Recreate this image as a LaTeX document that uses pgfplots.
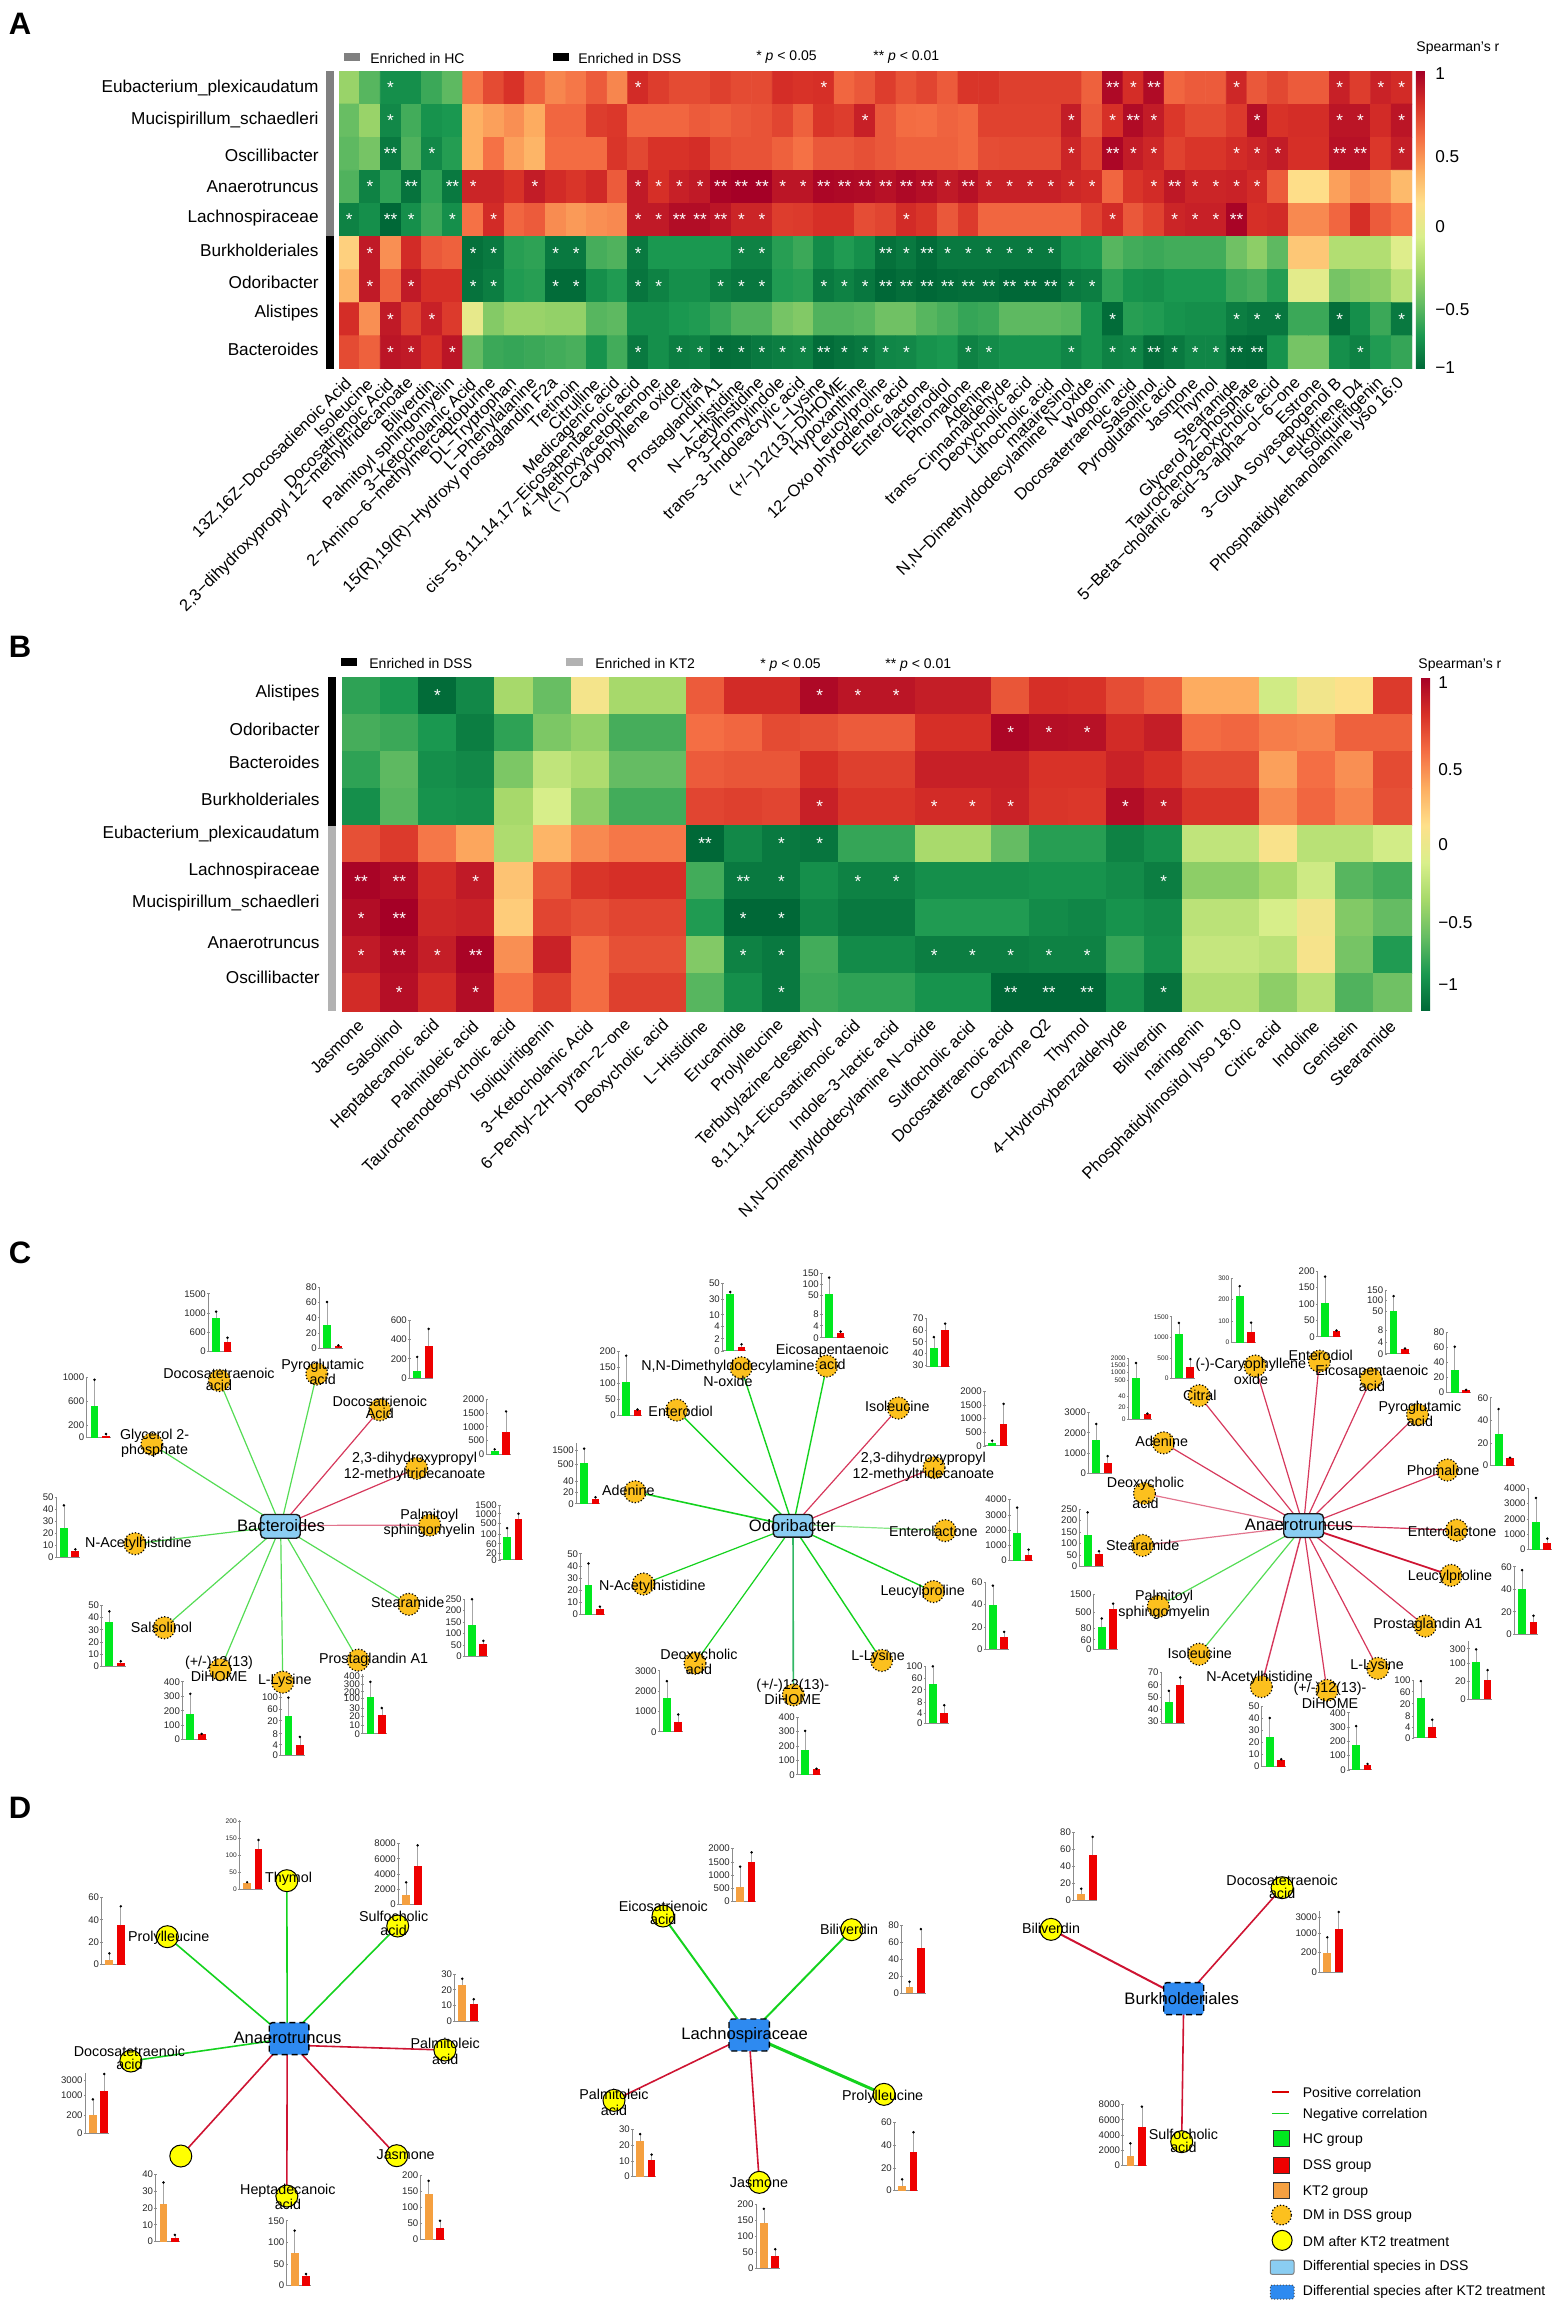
\documentclass[border=0pt]{standalone}
\usepackage{fontspec}
\setmainfont{Liberation Sans}
\usepackage{pgfplots}
\usepackage{pgfplotstable}
\pgfplotsset{compat=1.18}

\definecolor{hcgreen}{RGB}{0,232,30}
\definecolor{dssred}{RGB}{238,0,0}
\definecolor{ktorange}{RGB}{245,160,64}
\definecolor{dmdss}{RGB}{252,192,30}
\definecolor{dmkt}{RGB}{255,255,0}
\definecolor{hublight}{RGB}{138,205,242}
\definecolor{hubblue}{RGB}{46,138,240}
\definecolor{posedge}{RGB}{214,56,92}
\definecolor{posdark}{RGB}{206,20,50}
\definecolor{negedge}{RGB}{84,220,84}
\definecolor{negdark}{RGB}{20,210,30}
\definecolor{axgray}{RGB}{140,140,140}

\newcommand{\netf}{\fontsize{7.15}{5.9}\selectfont}
\newcommand{\netg}{\fontsize{7.15}{6.6}\selectfont}
\newcommand{\hubf}{\fontsize{8.3}{9}\selectfont}
\newcommand{\mbf}{\fontsize{4.8}{5}\selectfont}
\newcommand{\txf}{\fontsize{7}{8}\selectfont}
\newcommand{\rowf}{\fontsize{8.6}{9}\selectfont}
\newcommand{\tickf}{\fontsize{8.3}{9}\selectfont}

\pgfplotsset{
  rdyl/.style={colormap={rdylgn}{rgb255=(0,104,55) rgb255=(26,152,80) rgb255=(102,189,99) rgb255=(166,217,106) rgb255=(217,239,139) rgb255=(254,224,139) rgb255=(253,174,97) rgb255=(244,109,67) rgb255=(215,48,39) rgb255=(165,0,38)}},
  heat/.style={rdyl, scale only axis, anchor=north west, enlargelimits=false,
    y dir=reverse, ytick=\empty, axis line style={draw=none}, tick style={draw=none},
    xticklabel pos=lower, point meta min=-1, point meta max=1,
    xticklabel style={font=\tickf, yshift=-6pt, rotate=45, anchor=east, inner sep=0pt},
    colorbar, colorbar/width=4.5pt},
  star/.style={draw=none, mark=none, nodes near coords={#1},
    every node near coord/.append style={text=white, anchor=center, inner sep=0pt, font=\rowf}},
  crop/.style={at={(\cax pt,\cay pt)}, anchor=north west, scale only axis,
    width=\caw pt, height=\cah pt, xmin=0, xmax=\cxm, ymin=0, ymax=\cym,
    y dir=reverse, hide axis, clip=false},
  mini/.style={anchor=south west, scale only axis, width=12pt, xmin=0, xmax=24,
    axis y line=left, axis x line=bottom, xtick=\empty,
    axis line style={-, draw=axgray, line width=.5pt},
    major tick length=1.2pt, ytick style={draw=axgray, line width=.35pt},
    yticklabel style={font=\mbf, inner sep=.5pt, text=black!85}},
}

\newcommand{\setcrop}[6]{\def\ox{#1}\def\oy{#2}\def\zx{#5}\def\zy{#6}%
  \pgfmathsetmacro\cax{#1*0.5}\pgfmathsetmacro\cay{-#2*0.5}%
  \pgfmathsetmacro\caw{#3*0.5}\pgfmathsetmacro\cah{#4*0.5}%
  \pgfmathsetmacro\cxm{#3*#5}\pgfmathsetmacro\cym{#4*#6}}
\def\parsevals#1,#2,#3,#4\relax{\def\va{#1}\def\ea{#2}\def\vb{#3}\def\eb{#4}}
% left, bottom, top (crop coords), ymin, ymax, ticks, tick labels, first colour, {bar,errtop,bar,errtop}
\newcommand{\minibar}[9]{%
  \parsevals#9\relax
  \pgfmathsetmacro\mbx{(\ox+#1/\zx)*0.5}%
  \pgfmathsetmacro\mby{-(\oy+#2/\zy)*0.5}%
  \pgfmathsetmacro\mbh{(#2-#3)/\zy*0.5}%
  \begin{axis}[mini, at={(\mbx pt,\mby pt)}, height=\mbh pt, ymin=#4, ymax=#5, ytick={#6}, yticklabels={#7}]
    \addplot[ybar, bar shift=0pt, bar width=3.9pt, fill=#8, draw=none] coordinates {(7.8,\va)};
    \addplot[ybar, bar shift=0pt, bar width=3.9pt, fill=dssred, draw=none] coordinates {(19.2,\vb)};
    \addplot[black!35, line width=.3pt] coordinates {(7.8,\va) (7.8,\ea)};
    \addplot[black!35, line width=.3pt] coordinates {(19.2,\vb) (19.2,\eb)};
    \addplot[only marks, mark=*, mark size=.4pt, black] coordinates {(7.8,\ea) (19.2,\eb)};
  \end{axis}}
\newcommand{\edge}[4]{\addplot[#1, line width=#2] coordinates {(#3) (#4)};}
\newcommand{\lab}[3]{\node[align=center, inner sep=0pt, font=\netf] at (axis cs:#1,#2) {#3};}
\newcommand{\labg}[3]{\node[align=center, inner sep=0pt, font=\netg] at (axis cs:#1,#2) {#3};}
\newcommand{\hublab}[3]{\node[inner sep=0pt, font=\hubf] at (axis cs:#1,#2) {#3};}
\newcommand{\dsshub}[4]{\draw[fill=hublight, draw=black!90, line width=.7pt, rounded corners=2pt] (axis cs:#1,#2) rectangle (axis cs:#3,#4);}
\newcommand{\kthub}[4]{\draw[fill=hubblue, draw=black, line width=.7pt, densely dashed, rounded corners=1.5pt] (axis cs:#1,#2) rectangle (axis cs:#3,#4);}

\pgfplotstableread[row sep=\\]{
v\\
-0.38\\-0.60\\-0.82\\-0.82\\-0.68\\-0.58\\0.52\\0.68\\0.77\\0.60\\0.47\\0.52\\0.62\\0.47\\0.80\\0.73\\0.68\\0.68\\0.72\\0.68\\0.68\\0.79\\
0.77\\0.78\\0.58\\0.63\\0.73\\0.65\\0.70\\0.62\\0.76\\0.76\\0.72\\0.72\\0.72\\0.72\\0.60\\0.96\\0.79\\0.95\\0.58\\0.62\\0.62\\0.82\\0.63\\0.69\\0.62\\0.62\\0.85\\0.73\\0.84\\0.80\\
-0.55\\-0.38\\-0.85\\-0.66\\-0.80\\-0.78\\0.32\\0.38\\0.44\\0.34\\0.58\\0.58\\0.73\\0.75\\0.58\\0.58\\0.58\\0.62\\0.60\\0.63\\0.65\\0.70\\
0.60\\0.76\\0.73\\0.85\\0.63\\0.56\\0.55\\0.59\\0.57\\0.71\\0.71\\0.71\\0.71\\0.87\\0.63\\0.78\\0.95\\0.87\\0.75\\0.68\\0.68\\0.74\\0.93\\0.77\\0.79\\0.79\\0.90\\0.90\\0.80\\0.90\\
-0.58\\-0.50\\-0.92\\-0.62\\-0.85\\-0.75\\0.32\\0.54\\0.38\\0.30\\0.56\\0.56\\0.56\\0.76\\0.69\\0.77\\0.77\\0.79\\0.68\\0.65\\0.65\\0.60\\
0.54\\0.63\\0.63\\0.66\\0.63\\0.60\\0.60\\0.60\\0.57\\0.67\\0.68\\0.68\\0.68\\0.83\\0.71\\0.97\\0.87\\0.82\\0.71\\0.76\\0.76\\0.80\\0.83\\0.87\\0.78\\0.78\\0.92\\0.92\\0.75\\0.86\\
-0.62\\-0.88\\-0.72\\-0.95\\-0.72\\-0.92\\0.83\\0.83\\0.77\\0.87\\0.80\\0.76\\0.81\\0.62\\0.88\\0.78\\0.85\\0.88\\0.98\\1\\1\\0.90\\
0.90\\0.97\\0.96\\0.95\\0.92\\0.96\\0.93\\0.88\\0.92\\0.85\\0.85\\0.85\\0.85\\0.82\\0.80\\0.58\\0.76\\0.80\\0.89\\0.83\\0.83\\0.84\\0.80\\0.62\\0.12\\0.12\\0.38\\0.47\\0.43\\0.28\\
-0.88\\-0.82\\-1\\-0.82\\-0.68\\-0.82\\0.54\\0.80\\0.58\\0.62\\0.45\\0.40\\0.44\\0.46\\0.88\\0.88\\0.94\\0.94\\0.90\\0.83\\0.83\\0.73\\
0.74\\0.78\\0.78\\0.67\\0.70\\0.80\\0.76\\0.63\\0.74\\0.58\\0.58\\0.58\\0.58\\0.58\\0.71\\0.80\\0.63\\0.71\\0.83\\0.85\\0.85\\0.98\\0.78\\0.80\\0.46\\0.46\\0.58\\0.78\\0.62\\0.54\\
0.18\\0.88\\0.44\\0.80\\0.63\\0.60\\-0.96\\-0.92\\-0.74\\-0.72\\-0.92\\-0.92\\-0.65\\-0.62\\-0.92\\-0.78\\-0.78\\-0.78\\-0.78\\-0.88\\-0.88\\-0.74\\
-0.68\\-0.84\\-0.76\\-0.82\\-0.96\\-0.92\\-0.98\\-0.92\\-0.92\\-0.92\\-0.92\\-0.92\\-0.92\\-0.80\\-0.78\\-0.60\\-0.66\\-0.68\\-0.66\\-0.66\\-0.66\\-0.52\\-0.42\\-0.58\\0.22\\0.22\\-0.28\\-0.28\\-0.28\\-0.08\\
0.30\\0.88\\0.60\\0.88\\0.78\\0.78\\-0.95\\-0.90\\-0.76\\-0.74\\-0.98\\-0.98\\-0.82\\-0.76\\-0.94\\-0.88\\-0.82\\-0.82\\-0.90\\-0.93\\-0.93\\-0.76\\
-0.74\\-0.92\\-0.88\\-0.93\\-1\\-0.97\\-1\\-0.98\\-0.97\\-0.97\\-1\\-1\\-1\\-0.92\\-0.90\\-0.72\\-0.80\\-0.82\\-0.78\\-0.78\\-0.78\\-0.68\\-0.65\\-0.75\\-0.05\\-0.05\\-0.50\\-0.45\\-0.42\\-0.25\\
0.79\\0.44\\0.88\\0.72\\0.85\\0.74\\-0.03\\-0.45\\-0.38\\-0.38\\-0.40\\-0.40\\-0.60\\-0.58\\-0.82\\-0.82\\-0.78\\-0.76\\-0.70\\-0.62\\-0.62\\-0.50\\
-0.46\\-0.62\\-0.62\\-0.60\\-0.52\\-0.52\\-0.60\\-0.64\\-0.70\\-0.68\\-0.58\\-0.58\\-0.58\\-0.60\\-0.80\\-0.98\\-0.74\\-0.76\\-0.80\\-0.82\\-0.82\\-0.90\\-0.93\\-0.93\\-0.68\\-0.68\\-0.97\\-0.82\\-0.68\\-0.92\\
0.68\\0.60\\0.90\\0.88\\0.78\\0.90\\-0.56\\-0.68\\-0.70\\-0.68\\-0.66\\-0.64\\-0.80\\-0.66\\-0.92\\-0.82\\-0.90\\-0.88\\-0.97\\-0.96\\-0.92\\-0.90\\
-0.88\\-0.98\\-0.95\\-0.92\\-0.86\\-0.85\\-0.80\\-0.78\\-0.88\\-0.84\\-0.80\\-0.80\\-0.80\\-0.86\\-0.80\\-0.88\\-0.86\\-0.97\\-0.92\\-0.86\\-0.86\\-0.98\\-0.99\\-0.80\\-0.50\\-0.50\\-0.82\\-0.88\\-0.76\\-0.70\\
}\heatA

\pgfplotstableread[row sep=\\]{
v\\
-0.72\\-0.78\\-0.98\\-0.85\\-0.33\\-0.55\\0.05\\-0.33\\-0.33\\0.62\\0.80\\0.80\\0.96\\0.90\\0.90\\0.86\\0.86\\0.64\\0.78\\0.77\\0.67\\0.60\\0.34\\0.34\\-0.15\\0.03\\0.10\\0.74\\
-0.65\\-0.68\\-0.78\\-0.90\\-0.72\\-0.48\\-0.40\\-0.65\\-0.65\\0.55\\0.58\\0.68\\0.66\\0.62\\0.62\\0.78\\0.78\\0.97\\0.93\\0.92\\0.80\\0.86\\0.56\\0.58\\0.50\\0.48\\0.60\\0.60\\
-0.72\\-0.58\\-0.82\\-0.85\\-0.48\\-0.22\\-0.30\\-0.56\\-0.56\\0.62\\0.64\\0.64\\0.78\\0.72\\0.72\\0.85\\0.85\\0.85\\0.77\\0.77\\0.84\\0.78\\0.68\\0.68\\0.38\\0.55\\0.44\\0.68\\
-0.82\\-0.60\\-0.80\\-0.82\\-0.33\\-0.12\\-0.42\\-0.66\\-0.66\\0.70\\0.72\\0.70\\0.85\\0.76\\0.76\\0.80\\0.80\\0.84\\0.76\\0.75\\0.94\\0.87\\0.76\\0.76\\0.46\\0.58\\0.48\\0.66\\
0.66\\0.74\\0.52\\0.36\\-0.30\\0.30\\0.46\\0.52\\0.52\\-1\\-0.85\\-0.92\\-0.94\\-0.70\\-0.70\\-0.32\\-0.32\\-0.56\\-0.74\\-0.74\\-0.88\\-0.82\\-0.22\\-0.22\\0.08\\-0.25\\-0.25\\-0.14\\
0.98\\0.95\\0.80\\0.88\\0.24\\0.64\\0.76\\0.78\\0.78\\-0.66\\-0.92\\-0.92\\-0.82\\-0.88\\-0.88\\-0.82\\-0.82\\-0.82\\-0.80\\-0.80\\-0.84\\-0.90\\-0.42\\-0.42\\-0.32\\-0.16\\-0.60\\-0.66\\
0.94\\1\\0.82\\0.84\\0.20\\0.70\\0.66\\0.70\\0.70\\-0.76\\-1\\-1\\-0.86\\-0.92\\-0.92\\-0.76\\-0.76\\-0.76\\-0.84\\-0.86\\-0.80\\-0.84\\-0.24\\-0.24\\-0.12\\0.03\\-0.46\\-0.56\\
0.88\\0.95\\0.86\\0.98\\0.44\\0.84\\0.56\\0.66\\0.66\\-0.46\\-0.88\\-0.92\\-0.66\\-0.84\\-0.84\\-0.90\\-0.90\\-0.90\\-0.88\\-0.88\\-0.70\\-0.82\\-0.20\\-0.20\\-0.24\\0.06\\-0.50\\-0.76\\
0.80\\0.93\\0.80\\0.94\\0.54\\0.72\\0.56\\0.72\\0.72\\-0.60\\-0.82\\-0.92\\-0.68\\-0.72\\-0.72\\-0.80\\-0.80\\-1\\-1\\-1\\-0.82\\-0.95\\-0.28\\-0.28\\-0.42\\-0.26\\-0.62\\-0.52\\
}\heatB

\begin{document}
\begin{tikzpicture}
\path[use as bounding box] (0pt,0pt) rectangle (781pt,-1154pt);

% panel A heatmap
\begin{axis}[heat, at={(169.5pt,-35.5pt)}, width=536.5pt, height=149pt,
    xmin=0.5, xmax=52.5, ymin=0.5, ymax=9.5, xtick={1,2,...,52},
    xticklabels={{13Z,16Z−Docosadienoic Acid},Isoleucine,{Docosatrienoic Acid},{2,3−dihydroxypropyl 12−methyltridecanoate},Biliverdin,{Palmitoyl sphingomyelin},{3−Ketocholanic Acid},{2−Amino−6−methylmercaptopurine},{DL−Tryptophan},{L−Phenylalanine},{15(R),19(R)−Hydroxy prostaglandin F2a},Tretinoin,Citrulline,{Medicagenic acid},{cis−5,8,11,14,17−Eicosapentaenoic acid},{4'−Methoxyacetophenone},{(−)−Caryophyllene oxide},Citral,{Prostaglandin A1},{L−Histidine},{N−Acetylhistidine},{3−Formylindole},{trans−3−Indoleacrylic acid},{L−Lysine},{(+/−)12(13)−DiHOME},Hypoxanthine,Leucylproline,{12−Oxo phytodienoic acid},Enterolactone,Enterodiol,Phomalone,Adenine,{trans−Cinnamaldehyde},{Deoxycholic acid},{Lithocholic acid},matairesinol,{N,N−Dimethyldodecylamine N−oxide},Wogonin,{Docosatetraenoic acid},Salsolinol,{Pyroglutamic acid},Jasmone,Thymol,Stearamide,{Glycerol 2−phosphate},{Taurochenodeoxycholic acid},{5−Beta−cholanic acid−3−alpha−ol−6−one},Estrone,{3−GluA Soyasapogenol B},{Leukotriene D4},Isoliquiritigenin,{Phosphatidylethanolamine lyso 16:0}},
    colorbar style={at={(1.0037,1)}, anchor=north west,
      ytick={-0.99,-0.604,-0.047,0.423,0.98}, yticklabels={−1,−0.5,0,0.5,1},
      yticklabel style={font=\rowf, inner sep=0pt, xshift=5pt}, tick style={draw=none}, axis line style={draw=none}}]
  \addplot[matrix plot*, draw=none, mesh/cols=52, point meta=explicit]
    table[x index=0, y index=0, x expr={\coordindex-52*floor((\coordindex+0.5)/52)+1}, y expr={floor((\coordindex+0.5)/52)+1}, meta=v] {\heatA};
  \addplot[star=*] coordinates {
    (3,1)(15,1)(24,1)(39,1)(44,1)(49,1)(51,1)(52,1)
    (3,2)(26,2)(36,2)(38,2)(40,2)(45,2)(49,2)(50,2)(52,2)
    (5,3)(36,3)(39,3)(40,3)(44,3)(45,3)(46,3)(52,3)
    (2,4)(7,4)(10,4)(15,4)(16,4)(17,4)(18,4)(22,4)(23,4)(30,4)(32,4)(33,4)(34,4)(35,4)(36,4)(37,4)(40,4)(42,4)(43,4)(44,4)(45,4)
    (1,5)(4,5)(6,5)(8,5)(15,5)(16,5)(20,5)(21,5)(28,5)(38,5)(41,5)(42,5)(43,5)
    (2,6)(7,6)(8,6)(11,6)(12,6)(15,6)(20,6)(21,6)(28,6)(30,6)(31,6)(32,6)(33,6)(34,6)(35,6)
    (2,7)(4,7)(7,7)(8,7)(11,7)(12,7)(15,7)(16,7)(19,7)(20,7)(21,7)(24,7)(25,7)(26,7)(36,7)(37,7)
    (3,8)(5,8)(38,8)(44,8)(45,8)(46,8)(49,8)(52,8)
    (3,9)(4,9)(6,9)(15,9)(17,9)(18,9)(19,9)(20,9)(21,9)(22,9)(23,9)(25,9)(26,9)(27,9)(28,9)(31,9)(32,9)(36,9)(38,9)(39,9)(41,9)(42,9)(43,9)(50,9)};
  \addplot[star=**] coordinates {
    (38,1)(40,1) (39,2) (3,3)(38,3)(49,3)(50,3)
    (4,4)(6,4)(19,4)(20,4)(21,4)(24,4)(25,4)(26,4)(27,4)(28,4)(29,4)(31,4)(41,4)
    (3,5)(17,5)(18,5)(19,5)(44,5) (27,6)(29,6)
    (27,7)(28,7)(29,7)(30,7)(31,7)(32,7)(33,7)(34,7)(35,7)
    (24,9)(40,9)(44,9)(45,9)};
\end{axis}

% panel B heatmap
\begin{axis}[heat, at={(171pt,-338.5pt)}, width=535pt, height=167pt,
    xmin=0.5, xmax=28.5, ymin=0.5, ymax=9.5, xtick={1,2,...,28},
    xticklabels={Jasmone,Salsolinol,{Heptadecanoic acid},{Palmitoleic acid},{Taurochenodeoxycholic acid},Isoliquiritigenin,{3−Ketocholanic Acid},{6−Pentyl−2H−pyran−2−one},{Deoxycholic acid},{L−Histidine},Erucamide,Prolylleucine,{Terbutylazine−desethyl},{8,11,14−Eicosatrienoic acid},{Indole−3−lactic acid},{N,N−Dimethyldodecylamine N−oxide},{Sulfocholic acid},{Docosatetraenoic acid},{Coenzyme Q2},Thymol,{4−Hydroxybenzaldehyde},Biliverdin,naringenin,{Phosphatidylinositol lyso 18:0},{Citric acid},Indoline,Genistein,Stearamide},
    colorbar style={at={(1.0084,1)}, anchor=north west,
      ytick={-0.844,-0.473,-0.006,0.443,0.964}, yticklabels={−1,−0.5,0,0.5,1},
      yticklabel style={font=\rowf, inner sep=0pt, xshift=4pt}, tick style={draw=none}, axis line style={draw=none}}]
  \addplot[matrix plot*, draw=none, mesh/cols=28, point meta=explicit]
    table[x index=0, y index=0, x expr={\coordindex-28*floor((\coordindex+0.5)/28)+1}, y expr={floor((\coordindex+0.5)/28)+1}, meta=v] {\heatB};
  \addplot[star=*] coordinates {
    (3,1)(13,1)(14,1)(15,1) (18,2)(19,2)(20,2)
    (13,4)(16,4)(17,4)(18,4)(21,4)(22,4) (12,5)(13,5)
    (4,6)(12,6)(14,6)(15,6)(22,6) (1,7)(11,7)(12,7)
    (1,8)(3,8)(11,8)(12,8)(16,8)(17,8)(18,8)(19,8)(20,8)
    (2,9)(4,9)(12,9)(22,9)};
  \addplot[star=**] coordinates {
    (10,5) (1,6)(2,6)(11,6) (2,7) (2,8)(4,8) (18,9)(19,9)(20,9)};
\end{axis}

% annotations of panels A and B, in page pixels
\setcrop{0}{0}{1562}{2308}{1}{1}
\begin{axis}[crop]
  \fill[black!50] (axis cs:325.5,71) rectangle (axis cs:334,236);
  \fill[black] (axis cs:325.5,236) rectangle (axis cs:334,369);
  \fill[black] (axis cs:327.5,677) rectangle (axis cs:336,826);
  \fill[black!30] (axis cs:327.5,826) rectangle (axis cs:336,1011);
  \fill[black!50] (axis cs:344,53) rectangle (axis cs:360,61);
  \fill[black] (axis cs:553,53) rectangle (axis cs:569,61);
  \fill[black] (axis cs:341,658) rectangle (axis cs:357,666);
  \fill[black!30] (axis cs:566,658) rectangle (axis cs:583,666);
  \node[anchor=west, inner sep=0pt, font=\txf] at (axis cs:370,58) {Enriched in HC};
  \node[anchor=west, inner sep=0pt, font=\txf] at (axis cs:578,58) {Enriched in DSS};
  \node[anchor=west, inner sep=0pt, font=\txf] at (axis cs:756,57) {* \textit{p} < 0.05};
  \node[anchor=west, inner sep=0pt, font=\txf] at (axis cs:873,57) {** \textit{p} < 0.01};
  \node[anchor=west, inner sep=0pt, font=\txf] at (axis cs:1416,48) {Spearman's r};
  \node[anchor=west, inner sep=0pt, font=\txf] at (axis cs:369,663) {Enriched in DSS};
  \node[anchor=west, inner sep=0pt, font=\txf] at (axis cs:595,663) {Enriched in KT2};
  \node[anchor=west, inner sep=0pt, font=\txf] at (axis cs:760,665) {* \textit{p} < 0.05};
  \node[anchor=west, inner sep=0pt, font=\txf] at (axis cs:885,665) {** \textit{p} < 0.01};
  \node[anchor=west, inner sep=0pt, font=\txf] at (axis cs:1418,665) {Spearman's r};
  \node[anchor=east, inner sep=0pt, font=\rowf] at (axis cs:319,88) {Eubacterium\_plexicaudatum};
  \node[anchor=east, inner sep=0pt, font=\rowf] at (axis cs:319,120) {Mucispirillum\_schaedleri};
  \node[anchor=east, inner sep=0pt, font=\rowf] at (axis cs:319,155) {Oscillibacter};
  \node[anchor=east, inner sep=0pt, font=\rowf] at (axis cs:319,187) {Anaerotruncus};
  \node[anchor=east, inner sep=0pt, font=\rowf] at (axis cs:319,218) {Lachnospiraceae};
  \node[anchor=east, inner sep=0pt, font=\rowf] at (axis cs:319,250) {Burkholderiales};
  \node[anchor=east, inner sep=0pt, font=\rowf] at (axis cs:319,282) {Odoribacter};
  \node[anchor=east, inner sep=0pt, font=\rowf] at (axis cs:319,313) {Alistipes};
  \node[anchor=east, inner sep=0pt, font=\rowf] at (axis cs:319,349) {Bacteroides};
  \node[anchor=east, inner sep=0pt, font=\rowf] at (axis cs:320,693) {Alistipes};
  \node[anchor=east, inner sep=0pt, font=\rowf] at (axis cs:320,729) {Odoribacter};
  \node[anchor=east, inner sep=0pt, font=\rowf] at (axis cs:320,762) {Bacteroides};
  \node[anchor=east, inner sep=0pt, font=\rowf] at (axis cs:320,799) {Burkholderiales};
  \node[anchor=east, inner sep=0pt, font=\rowf] at (axis cs:320,834) {Eubacterium\_plexicaudatum};
  \node[anchor=east, inner sep=0pt, font=\rowf] at (axis cs:320,871) {Lachnospiraceae};
  \node[anchor=east, inner sep=0pt, font=\rowf] at (axis cs:320,903) {Mucispirillum\_schaedleri};
  \node[anchor=east, inner sep=0pt, font=\rowf] at (axis cs:320,943) {Anaerotruncus};
  \node[anchor=east, inner sep=0pt, font=\rowf] at (axis cs:320,977) {Oscillibacter};
  \node[inner sep=0pt, font=\fontsize{15.5}{16}\selectfont\bfseries] at (axis cs:20,24) {A};
  \node[inner sep=0pt, font=\fontsize{15.5}{16}\selectfont\bfseries] at (axis cs:20,647) {B};
  \node[inner sep=0pt, font=\fontsize{15.5}{16}\selectfont\bfseries] at (axis cs:20,1253) {C};
  \node[inner sep=0pt, font=\fontsize{15.5}{16}\selectfont\bfseries] at (axis cs:20,1808) {D};
\end{axis}

% panel C, Bacteroides
\setcrop{0}{1230}{540}{540}{2.904}{2.904}
\begin{axis}[crop]
  \edge{negedge}{.6pt}{815,860}{637,437}
  \edge{negedge}{.6pt}{815,860}{920,418}
  \edge{posedge}{.6pt}{815,860}{1103,522}
  \edge{posedge}{.6pt}{815,860}{1210,692}
  \edge{posedge!70}{.6pt}{815,858}{1248,857}
  \edge{negedge}{.6pt}{815,860}{1187,1087}
  \edge{negedge}{.6pt}{815,860}{1040,1249}
  \edge{negedge}{.6pt}{815,860}{821,1313}
  \edge{negedge}{.6pt}{815,860}{640,1276}
  \edge{negedge}{.6pt}{815,860}{477,1155}
  \edge{negedge}{.6pt}{815,860}{392,911}
  \edge{negedge}{.6pt}{815,860}{441,622}
  \addplot[only marks, mark=*, mark size=5.5pt, mark options={fill=dmdss, draw=black, line width=.6pt, densely dotted}] coordinates {
    (637,437)(920,418)(1103,522)(1210,692)(1248,857)(1187,1087)(1040,1249)(821,1313)(640,1276)(477,1155)(392,911)(441,622)};
\end{axis}
\begin{axis}[crop]
  \dsshub{757}{826}{872}{895}
  \hublab{816}{857}{Bacteroides}
  \lab{636}{433}{Docosatetraenoic\\acid}
  \lab{937}{412}{Pyroglutamic\\acid}
  \lab{1103}{515}{Docosatrienoic\\Acid}
  \lab{1204}{688}{2,3-dihydroxypropyl\\12-methyltridecanoate}
  \lab{1247}{852}{Palmitoyl\\sphingomyelin}
  \lab{1184}{1082}{Stearamide}
  \lab{1085}{1248}{Prostaglandin A1}
  \lab{827}{1308}{L-Lysine}
  \lab{636}{1275}{(+/-)12(13)\\DiHOME}
  \lab{469}{1154}{Salsolinol}
  \lab{402}{911}{N-Acetylhistidine}
  \lab{449}{620}{Glycerol 2-\\phosphate}
\end{axis}
\minibar{605}{353}{185}{0}{1500}{0,500,1000,1500}{0,600,1000,1500}{hcgreen}{875,1036,250,357}
\minibar{927}{343}{167}{0}{80}{0,20,40,60,80}{0,20,40,60,80}{hcgreen}{30,61,3,3.6}
\minibar{1189}{430}{262}{0}{600}{0,200,400,600}{0,200,400,600}{hcgreen}{78,220,328,510}
\minibar{1414}{652}{491}{0}{2000}{0,500,1000,1500,2000}{0,500,1000,1500,2000}{hcgreen}{125,187,795,1553}
\minibar{1450}{958}{800}{0}{158}{0,20,47,74,106,134,158}{0,20,60,100,500,1000,1500}{hcgreen}{67,92,120,134}
\minibar{1348}{1238}{1072}{0}{250}{0,50,100,150,200,250}{0,50,100,150,200,250}{hcgreen}{137,250,53,68}
\minibar{1053}{1463}{1288}{0}{175}{0,25,50,75,102,122,144,167}{0,10,20,30,100,200,300,400}{hcgreen}{107,151,56,75}
\minibar{815}{1525}{1345}{0}{180}{0,30,62,100,134,169}{0,4,8,20,60,100}{hcgreen}{115,167,30,53}
\minibar{530}{1480}{1312}{0}{400}{0,100,200,300,400}{0,100,200,300,400}{hcgreen}{176,317,38,40}
\minibar{295}{1267}{1090}{0}{50}{0,10,20,30,40,50}{0,10,20,30,40,50}{hcgreen}{36.7,45,2.8,4.2}
\minibar{163}{950}{775}{0}{50}{0,10,20,30,40,50}{0,10,20,30,40,50}{hcgreen}{24,43,5,6.5}
\minibar{252}{603}{427}{0}{1000}{0,200,600,1000}{0,200,600,1000}{hcgreen}{530,955,20,60}

% panel C, Odoribacter
\setcrop{510}{1230}{520}{540}{3}{2.904}
\begin{axis}[crop]
  \edge{negdark}{.7pt}{849,860}{693,400}
  \edge{negdark}{.7pt}{849,860}{950,395}
  \edge{posedge}{.6pt}{849,860}{1165,517}
  \edge{posedge}{.6pt}{849,860}{1272,690}
  \edge{negedge!70}{.6pt}{849,855}{1305,873}
  \edge{negdark}{.7pt}{849,860}{1270,1050}
  \edge{negdark}{.7pt}{849,860}{1115,1250}
  \edge{teal!40!negedge}{.8pt}{849,860}{850,1350}
  \edge{negdark}{.6pt}{849,860}{555,1258}
  \edge{negdark}{.6pt}{849,860}{400,1028}
  \edge{negdark}{.8pt}{849,860}{375,760}
  \edge{negdark}{.7pt}{849,860}{500,523}
  \addplot[only marks, mark=*, mark size=5.5pt, mark options={fill=dmdss, draw=black, line width=.6pt, densely dotted}] coordinates {
    (693,400)(950,395)(1165,517)(1272,690)(1305,873)(1270,1050)(1115,1250)(850,1350)(555,1258)(400,1028)(375,760)(500,523)};
\end{axis}
\begin{axis}[crop]
  \dsshub{790}{826}{908}{892}
  \hublab{847}{858}{Odoribacter}
  \lab{654}{416}{N,N-Dimethyldodecylamine\\N-oxide}
  \lab{967}{368}{Eicosapentaenoic\\acid}
  \lab{1162}{513}{Isoleucine}
  \lab{1240}{688}{2,3-dihydroxypropyl\\12-methyltridecanoate}
  \lab{1270}{875}{Enterolactone}
  \lab{1238}{1051}{Leucylproline}
  \lab{1104}{1240}{L-Lysine}
  \lab{848}{1342}{(+/-)12(13)-\\DiHOME}
  \lab{567}{1254}{Deoxycholic\\acid}
  \lab{427}{1035}{N-Acetylhistidine}
  \lab{355}{757}{Adenine}
  \lab{512}{526}{Enterodiol}
\end{axis}
\minibar{637}{351}{155}{0}{196}{0,35,71,105,151,196}{0,2,4,10,30,50}{hcgreen}{165,171,11,19}
\minibar{934}{313}{125}{0}{188}{0,35,69,124,156,188}{0,4,8,50,100,150}{hcgreen}{126,175,14,18}
\minibar{1248}{397}{257}{28.5}{70}{30,40,50,60,70}{30,40,50,60,70}{hcgreen}{44.8,54,60,65.6}
\minibar{1423}{627}{468}{0}{2000}{0,500,1000,1500,2000}{0,500,1000,1500,2000}{hcgreen}{125,190,790,1535}
\minibar{1498}{960}{783}{0}{4000}{0,1000,2000,3000,4000}{0,1000,2000,3000,4000}{hcgreen}{1810,3480,400,720}
\minibar{1425}{1218}{1023}{0}{60}{0,20,40,60}{0,20,40,60}{hcgreen}{40,57,10.8,15.7}
\minibar{1245}{1433}{1265}{0}{168}{0,30,62,98,132,166}{0,4,8,20,60,100}{hcgreen}{114,166,30,53}
\minibar{862}{1582}{1415}{0}{400}{0,100,200,300,400}{0,100,200,300,400}{hcgreen}{172,305,38,42}
\minibar{447}{1457}{1280}{0}{3000}{0,1000,2000,3000}{0,1000,2000,3000}{hcgreen}{1640,2490,490,850}
\minibar{212}{1117}{940}{0}{50}{0,10,20,30,40,50}{0,10,20,30,40,50}{hcgreen}{24,42,5,6.5}
\minibar{199}{795}{618}{0}{177}{0,33,66,114,156}{0,20,40,500,1500}{hcgreen}{119,160,15,19}
\minibar{325}{539}{353}{0}{200}{0,50,100,150,200}{0,50,100,150,200}{hcgreen}{105,187,17,19}

% panel C, Anaerotruncus
\setcrop{1020}{1230}{542}{540}{2.893}{2.904}
\begin{axis}[crop]
  \edge{posedge}{.6pt}{820,860}{680,395}
  \edge{posedge}{.6pt}{820,860}{866,381}
  \edge{posedge}{.6pt}{820,860}{1016,432}
  \edge{posedge}{.6pt}{820,860}{1150,536}
  \edge{posedge}{.6pt}{820,860}{1236,697}
  \edge{posedge}{.6pt}{820,855}{1263,872}
  \edge{posdark}{.9pt}{820,860}{1247,1003}
  \edge{posedge}{.6pt}{820,860}{1172,1150}
  \edge{posedge}{.6pt}{820,860}{1035,1273}
  \edge{posedge}{.6pt}{820,860}{888,1337}
  \edge{posedge}{.7pt}{820,860}{698,1326}
  \edge{negedge}{.6pt}{820,860}{518,1232}
  \edge{negedge}{.6pt}{820,860}{400,1093}
  \edge{posedge!70}{.6pt}{820,860}{354,916}
  \edge{posedge!70}{.6pt}{820,860}{360,765}
  \edge{posedge}{.6pt}{820,860}{415,618}
  \edge{posedge}{.6pt}{820,860}{518,481}
  \addplot[only marks, mark=*, mark size=5.5pt, mark options={fill=dmdss, draw=black, line width=.6pt, densely dotted}] coordinates {
    (680,395)(866,381)(1016,432)(1150,536)(1236,697)(1263,872)(1247,1003)(1172,1150)(1035,1273)(888,1337)(698,1326)(518,1232)(400,1093)(354,916)(360,765)(415,618)(518,481)};
\end{axis}
\begin{axis}[crop]
  \dsshub{763}{824}{878}{893}
  \hublab{807}{855}{Anaerotruncus}
  \lab{668}{411}{(-)-Caryophyllene\\oxide}
  \lab{870}{363}{Enterodiol}
  \lab{1018}{431}{Eicosapentaenoic\\acid}
  \lab{1157}{533}{Pyroglutamic\\acid}
  \lab{1224}{698}{Phomalone}
  \lab{1250}{874}{Enterolactone}
  \lab{1244}{1008}{Leucylproline}
  \lab{1180}{1146}{Prostaglandin A1}
  \lab{1033}{1266}{L-Lysine}
  \lab{897}{1351}{(+/-)12(13)-\\DiHOME}
  \lab{693}{1300}{N-Acetylhistidine}
  \lab{520}{1228}{Isoleucine}
  \lab{417}{1088}{Palmitoyl\\sphingomyelin}
  \lab{355}{915}{Stearamide}
  \lab{363}{763}{Deoxycholic\\[2.8pt]acid}
  \lab{410}{615}{Adenine}
  \lab{520}{481}{Citral}
\end{axis}
\minibar{860}{310}{120}{0}{200}{0,50,100,150,200}{0,50,100,150,200}{hcgreen}{103,184,17,19}
\minibar{1058}{360}{175}{0}{185}{0,35,70,125,155,185}{0,4,8,50,100,150}{hcgreen}{125,168,14,16}
\minibar{1235}{472}{296}{0}{80}{0,20,40,60,80}{0,20,40,60,80}{hcgreen}{30,60.5,3,3.6}
\minibar{1362}{684}{487}{0}{60}{0,20,40,60}{0,20,40,60}{hcgreen}{28,50,6.4,7}
\minibar{1470}{928}{750}{0}{4000}{0,1000,2000,3000,4000}{0,1000,2000,3000,4000}{hcgreen}{1820,3370,400,720}
\minibar{1430}{1174}{978}{0}{60}{0,20,40,60}{0,20,40,60}{hcgreen}{40,57,11,16.5}
\minibar{1297}{1362}{1193}{0}{169}{0,52,103,146}{0,20,100,300}{hcgreen}{108,144,56,84}
\minibar{1137}{1475}{1308}{0}{167}{0,31,63,99,134,167}{0,4,8,20,60,100}{hcgreen}{115,165,31,53}
\minibar{950}{1568}{1402}{0}{400}{0,100,200,300,400}{0,100,200,300,400}{hcgreen}{173,307,36,42}
\minibar{700}{1558}{1382}{0}{50}{0,10,20,30,40,50}{0,10,20,30,40,50}{hcgreen}{24,40,5,6}
\minibar{408}{1432}{1285}{28.5}{70}{30,40,50,60,70}{30,40,50,60,70}{hcgreen}{46,55,60,66}
\minibar{214}{1218}{1058}{0}{160}{0,28,61,108,160}{0,60,80,500,1500}{hcgreen}{65,90,117,133}
\minibar{173}{977}{810}{0}{250}{0,50,100,150,200,250}{0,50,100,150,200,250}{hcgreen}{136,235,54,66}
\minibar{198}{707}{530}{0}{3000}{0,1000,2000,3000}{0,1000,2000,3000}{hcgreen}{1640,2440,510,850}
\renewcommand{\mbf}{\fontsize{3.3}{4}\selectfont}
\minibar{613}{327}{140}{0}{300}{0,100,200,300}{0,100,200,300}{hcgreen}{216,263,50,93}
\minibar{313}{550}{372}{0}{178}{0,34,67,114,136,157,178}{0,20,40,500,1000,1500,2000}{hcgreen}{119,164,15,17}
\minibar{437}{431}{252}{0}{1500}{0,500,1000,1500}{0,500,1000,1500}{hcgreen}{1075,1350,290,470}
\renewcommand{\mbf}{\fontsize{4.8}{5}\selectfont}

% panel D, Anaerotruncus
\setcrop{0}{1790}{540}{518}{2.904}{3}
\begin{axis}[crop]
  \edge{negdark}{.8pt}{834,746}{833,272}
  \edge{negdark}{.8pt}{834,746}{1155,408}
  \edge{posdark}{.8pt}{834,765}{1292,780}
  \edge{posdark}{.8pt}{834,746}{1152,1097}
  \edge{posdark}{.8pt}{834,746}{833,1218}
  \edge{posdark}{.8pt}{834,746}{525,1098}
  \edge{negdark}{.8pt}{834,746}{380,813}
  \edge{negdark}{.8pt}{834,746}{486,440}
  \addplot[only marks, mark=*, mark size=5.5pt, mark options={fill=dmkt, draw=black, line width=.5pt}] coordinates {
    (833,272)(1155,408)(1292,780)(1152,1097)(833,1218)(525,1098)(380,813)(486,440)};
\end{axis}
\begin{axis}[crop]
  \kthub{782}{698}{897}{794}
  \hublab{835}{744}{Anaerotruncus}
  \labg{838}{265}{Thymol}
  \labg{1143}{400}{Sulfocholic\\acid}
  \labg{1293}{785}{Palmitoleic\\[1.4pt]acid}
  \labg{1178}{1095}{Jasmone}
  \labg{836}{1220}{Heptadecanoic\\acid}
  \labg{376}{803}{Docosatetraenoic\\acid}
  \labg{490}{442}{Prolylleucine}
\end{axis}
\minibar{1157}{344}{160}{0}{8000}{0,2000,4000,6000,8000}{0,2000,4000,6000,8000}{ktorange}{1220,2910,5040,7740}
\minibar{1320}{694}{552}{0}{30}{0,10,20,30}{0,10,20,30}{ktorange}{22.8,27,10.8,14}
\minibar{1222}{1349}{1157}{0}{200}{0,50,100,150,200}{0,50,100,150,200}{ktorange}{143,184,38,59}
\minibar{833}{1487}{1292}{0}{150}{0,50,100,150}{0,50,100,150}{ktorange}{75,127,23,27}
\minibar{452}{1355}{1152}{0}{40}{0,10,20,30,40}{0,10,20,30,40}{ktorange}{22,35,2.4,4}
\minibar{247}{1030}{848}{0}{182}{0,55,113,158}{0,200,1000,3000}{ktorange}{55,102,128,178}
\minibar{295}{524}{322}{0}{60}{0,20,40,60}{0,20,40,60}{ktorange}{4.2,10,35,52}
\renewcommand{\mbf}{\fontsize{3.3}{4}\selectfont}
\minibar{695}{298}{90}{0}{205}{0,50,100,150,200}{0,50,100,150,200}{ktorange}{18,21,118,146}
\renewcommand{\mbf}{\fontsize{4.8}{5}\selectfont}

% panel D, Lachnospiraceae
\setcrop{540}{1790}{500}{518}{3}{3}
\begin{axis}[crop]
  \edge{negdark}{1pt}{627,735}{369,378}
  \edge{negdark}{1pt}{627,735}{935,419}
  \edge{negdark}{1.5pt}{627,735}{1032,913}
  \edge{posdark}{.8pt}{627,735}{658,1177}
  \edge{posdark}{.8pt}{627,735}{222,931}
  \addplot[only marks, mark=*, mark size=5.5pt, mark options={fill=dmkt, draw=black, line width=.5pt}] coordinates {
    (369,378)(935,419)(1032,913)(658,1177)(222,931)};
\end{axis}
\begin{axis}[crop]
  \kthub{567}{687}{688}{783}
  \hublab{614}{736}{Lachnospiraceae}
  \labg{370}{368}{Eicosatrienoic\\acid}
  \labg{927}{418}{Biliverdin}
  \labg{1028}{920}{Prolylleucine}
  \labg{657}{1177}{Jasmone}
  \labg{222}{936}{Palmitoleic\\[1.4pt]acid}
\end{axis}
\minibar{577}{335}{176}{0}{2000}{0,500,1000,1500,2000}{0,500,1000,1500,2000}{ktorange}{540,1320,1510,1860}
\minibar{1085}{609}{407}{0}{80}{0,20,40,60,80}{0,20,40,60,80}{ktorange}{7.5,13.5,53.5,76}
\minibar{1063}{1202}{998}{0}{60}{0,20,40,60}{0,20,40,60}{ktorange}{4.2,10,34.5,51.5}
\minibar{648}{1434}{1243}{0}{200}{0,50,100,150,200}{0,50,100,150,200}{ktorange}{143,186,39,59}
\minibar{277}{1160}{1018}{0}{30}{0,10,20,30}{0,10,20,30}{ktorange}{22.6,27,10.8,14}

% panel D, Burkholderiales and the key
\setcrop{1030}{1790}{532}{518}{2.947}{3}
\begin{axis}[crop]
  \edge{posdark}{1pt}{453,626}{62,418}
  \edge{posdark}{.8pt}{453,626}{743,293}
  \edge{posdark}{.8pt}{453,626}{447,1055}
  \addplot[only marks, mark=*, mark size=5.5pt, mark options={fill=dmkt, draw=black, line width=.5pt}] coordinates {
    (62,418)(743,293)(447,1055)};
  \addplot[red!85!black, line width=.8pt] coordinates {(713,906) (762,906)};
  \addplot[negdark, line width=.8pt] coordinates {(713,970) (762,970)};
  \draw[fill=hcgreen, draw=black!80, line width=.5pt] (axis cs:718,1022) rectangle (axis cs:765,1070);
  \draw[fill=dssred, draw=black!80, line width=.5pt] (axis cs:718,1103) rectangle (axis cs:765,1150);
  \draw[fill=ktorange, draw=black!80, line width=.5pt] (axis cs:718,1177) rectangle (axis cs:765,1225);
  \addplot[only marks, mark=*, mark size=5pt, mark options={fill=dmdss, draw=black, line width=.6pt, densely dotted}] coordinates {(741,1275)};
  \addplot[only marks, mark=*, mark size=5pt, mark options={fill=dmkt, draw=black, line width=.5pt}] coordinates {(743,1351)};
  \draw[fill=hublight, draw=black!50, line width=.5pt, rounded corners=1pt] (axis cs:708,1410) rectangle (axis cs:778,1453);
  \draw[fill=hubblue, draw=black!70, line width=.5pt, densely dotted, rounded corners=1pt] (axis cs:708,1485) rectangle (axis cs:778,1527);
  \node[anchor=west, inner sep=0pt, font=\txf] at (axis cs:803,906) {Positive correlation};
  \node[anchor=west, inner sep=0pt, font=\txf] at (axis cs:803,974) {Negative correlation};
  \node[anchor=west, inner sep=0pt, font=\txf] at (axis cs:803,1049) {HC group};
  \node[anchor=west, inner sep=0pt, font=\txf] at (axis cs:803,1129) {DSS group};
  \node[anchor=west, inner sep=0pt, font=\txf] at (axis cs:803,1206) {KT2 group};
  \node[anchor=west, inner sep=0pt, font=\txf] at (axis cs:803,1278) {DM in DSS group};
  \node[anchor=west, inner sep=0pt, font=\txf] at (axis cs:803,1354) {DM after KT2 treatment};
  \node[anchor=west, inner sep=0pt, font=\txf] at (axis cs:803,1431) {Differential species in DSS};
  \node[anchor=west, inner sep=0pt, font=\txf] at (axis cs:803,1507) {Differential species after KT2 treatment};
\end{axis}
\begin{axis}[crop]
  \kthub{394}{578}{512}{674}
  \hublab{447}{627}{Burkholderiales}
  \labg{62}{415}{Biliverdin}
  \labg{743}{290}{Docosatetraenoic\\acid}
  \labg{452}{1053}{Sulfocholic\\acid}
\end{axis}
\minibar{128}{330}{128}{0}{80}{0,20,40,60,80}{0,20,40,60,80}{ktorange}{7,13.5,53,75}
\minibar{853}{546}{362}{0}{184}{0,58,116,163}{0,200,1000,3000}{ktorange}{57,104,130,180}
\minibar{273}{1127}{943}{0}{8000}{0,2000,4000,6000,8000}{0,2000,4000,6000,8000}{ktorange}{1260,2910,5040,7700}
\end{tikzpicture}
\end{document}
